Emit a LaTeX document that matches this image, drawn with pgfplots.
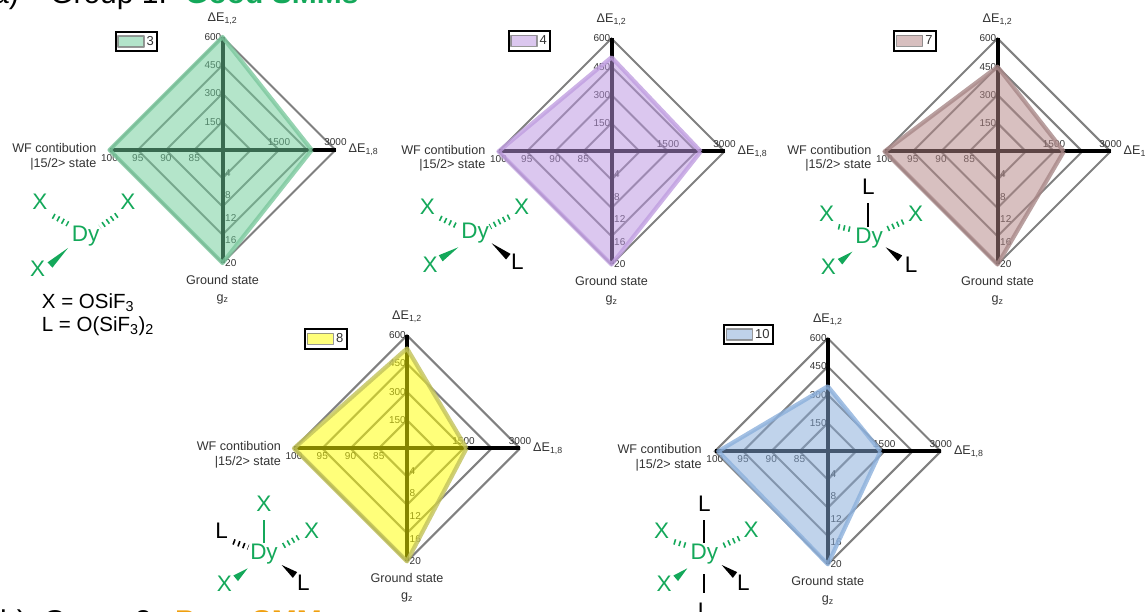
\documentclass[border=0pt]{standalone}
\usepackage{pgfplots}
\usepackage{pgfplotstable}
\pgfplotsset{compat=1.18}
\usepackage{fontspec}
\setmainfont{Liberation Sans}
\usetikzlibrary{calc}

\definecolor{chem}{HTML}{14A85A}
\definecolor{poor}{HTML}{F0A010}
\definecolor{txt}{HTML}{333333}
\definecolor{ring}{HTML}{808080}
\definecolor{fThree}{HTML}{6FCD9A}\definecolor{lThree}{HTML}{7CC89E}
\definecolor{fFour}{HTML}{BA94E0}\definecolor{lFour}{HTML}{C09FE0}
\definecolor{fSeven}{HTML}{B48686}\definecolor{lSeven}{HTML}{A88888}
\definecolor{fEight}{HTML}{FFFF00}\definecolor{lEight}{HTML}{C2C25A}
\definecolor{fTen}{HTML}{86AAD8}\definecolor{lTen}{HTML}{8CB0DC}

% one row per spoke: direction, range of that spoke, value
\pgfplotstableread{
dx dy lo hi val
1 0 0 3000 2370
0 -1 0 20 20
-1 0 80 100 100
0 1 0 600 600
1 0 0 3000 2370
}\tblThree
\pgfplotstableread{
dx dy lo hi val
1 0 0 3000 2370
0 -1 0 20 20
-1 0 80 100 100
0 1 0 600 500
1 0 0 3000 2370
}\tblFour
\pgfplotstableread{
dx dy lo hi val
1 0 0 3000 1760
0 -1 0 20 20
-1 0 80 100 100
0 1 0 600 450
1 0 0 3000 1760
}\tblSeven
\pgfplotstableread{
dx dy lo hi val
1 0 0 3000 1580
0 -1 0 20 20
-1 0 80 100 100
0 1 0 600 530
1 0 0 3000 1580
}\tblEight
\pgfplotstableread{
dx dy lo hi val
1 0 0 3000 1400
0 -1 0 20 20
-1 0 80 100 99.4
0 1 0 600 345
1 0 0 3000 1400
}\tblTen

\newcommand{\fs}[1]{\fontsize{#1}{#1}\selectfont}
\tikzset{
  tick lab/.style={font=\fs{10},text=txt,inner sep=0pt},
  cat lab/.style={font=\fs{12.6},text=txt,inner sep=0pt},
  atom/.style={font=\fs{22.5},inner sep=0pt},
}

% args: cx, cy, table, fill, line, legend x, legend y, legend label
\newcommand{\radar}[8]{%
  \colorlet{serfill}{#4}\colorlet{serline}{#5}%
  \begin{axis}[
    at={(#1pt,-#2pt)},anchor=center,
    scale only axis,width=226pt,height=226pt,
    xmin=-1,xmax=1,ymin=-1,ymax=1,
    axis lines=none,clip=false,
    legend style={at={(axis description cs:#6,#7)},anchor=center,
      draw=black,line width=2pt,inner xsep=1.5pt,inner ysep=2.5pt,
      font=\fs{13},text=txt,fill=white},
    legend image code/.code={
      \draw[line width=1.5pt,draw=ring,fill=serfill,fill opacity=.52]
        (0pt,-5.5pt) rectangle (26pt,5.5pt);},
  ]
  \addplot[forget plot,ring,line width=2.1pt] coordinates {(.25,0)(0,-.25)(-.25,0)(0,.25)(.25,0)};
  \addplot[forget plot,ring,line width=2.1pt] coordinates {(.5,0)(0,-.5)(-.5,0)(0,.5)(.5,0)};
  \addplot[forget plot,ring,line width=2.1pt] coordinates {(.75,0)(0,-.75)(-.75,0)(0,.75)(.75,0)};
  \addplot[forget plot,ring,line width=2.1pt] coordinates {(1,0)(0,-1)(-1,0)(0,1)(1,0)};
  \addplot[forget plot,black,line width=4pt] coordinates {(-1,0)(1,0)};
  \addplot[forget plot,black,line width=4pt] coordinates {(0,-1)(0,1)};
  \node[tick lab,anchor=east,xshift=-1pt] at (axis cs:0,1) {600};
  \node[tick lab,anchor=east,xshift=-1pt] at (axis cs:0,.75) {450};
  \node[tick lab,anchor=east,xshift=-1pt] at (axis cs:0,.5) {300};
  \node[tick lab,anchor=east,xshift=-1pt] at (axis cs:0,.25) {150};
  \node[tick lab,yshift=7.5pt] at (axis cs:.5,0) {1500};
  \node[tick lab,yshift=7.5pt] at (axis cs:1,0) {3000};
  \node[tick lab,yshift=-8pt] at (axis cs:-1,0) {100};
  \node[tick lab,yshift=-8pt] at (axis cs:-.75,0) {95};
  \node[tick lab,yshift=-8pt] at (axis cs:-.5,0) {90};
  \node[tick lab,yshift=-8pt] at (axis cs:-.25,0) {85};
  \node[tick lab,anchor=west,xshift=2.5pt] at (axis cs:0,-.2) {4};
  \node[tick lab,anchor=west,xshift=2.5pt] at (axis cs:0,-.4) {8};
  \node[tick lab,anchor=west,xshift=2.5pt] at (axis cs:0,-.6) {12};
  \node[tick lab,anchor=west,xshift=2.5pt] at (axis cs:0,-.8) {16};
  \node[tick lab,anchor=west,xshift=2.5pt] at (axis cs:0,-1) {20};
  \addplot[draw=serline,fill=serfill,line width=4.2pt,line join=round,
    fill opacity=.52,draw opacity=.8]
    table[x expr=\thisrow{dx}*(\thisrow{val}-\thisrow{lo})/(\thisrow{hi}-\thisrow{lo}),
          y expr=\thisrow{dy}*(\thisrow{val}-\thisrow{lo})/(\thisrow{hi}-\thisrow{lo})] {#3};
  \addlegendentry{#8}
  \node[cat lab,yshift=18.5pt] at (axis cs:0,1) {ΔE\textsubscript{1,2}};
  \node[cat lab,anchor=west,xshift=13pt] at (axis cs:1,0) {ΔE\textsubscript{1,8}};
  \node[cat lab,anchor=east,xshift=-13pt,yshift=2pt] at (axis cs:-1,0) {WF contibution};
  \node[cat lab,anchor=east,xshift=-13pt,yshift=-14pt] at (axis cs:-1,0) {|15/2> state};
  \node[cat lab,yshift=-16.5pt] at (axis cs:0,-1) {Ground state};
  \node[cat lab,yshift=-36pt] at (axis cs:0,-1) {g\textsubscript{z}};
  \end{axis}}

% hashed and wedged bonds
\newcommand{\hashb}[5]{\draw[#5,line width=5.5pt,dash pattern=on 1.6pt off 3.6pt] (#1,#2) -- (#3,#4);}
\newcommand{\wedgeb}[5]{\fill[#5] (#1,#2) -- ($(#3,#4)!3.6pt!90:(#1,#2)$) -- ($(#3,#4)!3.6pt!-90:(#1,#2)$) -- cycle;}

\begin{document}
\begin{tikzpicture}[x=1pt,y=-1pt]
\path[use as bounding box] (0,0) rectangle (1145,612);
\clip (0,0) rectangle (1145,612);

\node[font=\fs{30},anchor=base west,inner sep=0pt] at (-8,3.5) {a)};
\node[font=\fs{30},anchor=base west,inner sep=0pt] at (50,3.5) {Group 1:};
\node[font=\fs{30}\bfseries,text=chem,anchor=base west,inner sep=0pt] at (185,3.5) {Good SMMs};
\node[font=\fs{30},anchor=base west,inner sep=0pt] at (0,631.5) {b)};
\node[font=\fs{30},anchor=base west,inner sep=0pt] at (43,631.5) {Group 2:};
\node[font=\fs{30}\bfseries,text=poor,anchor=base west,inner sep=0pt] at (175,631.5) {Poor SMMs};

\radar{222.5}{150}{\tblThree}{fThree}{lThree}{.119}{.98}{3}
\radar{611.5}{151.5}{\tblFour}{fFour}{lFour}{.137}{.989}{4}
\radar{997.5}{151.5}{\tblSeven}{fSeven}{lSeven}{.136}{.989}{7}
\radar{407}{448.3}{\tblEight}{fEight}{lEight}{.142}{.984}{8}
\radar{827.8}{451.3}{\tblTen}{fTen}{lTen}{.15}{1.017}{10}

% ligand sketches
\node[atom,text=chem] at (40,202) {X};
\node[atom,text=chem] at (128,202) {X};
\node[atom,text=chem] at (85.7,236) {Dy};
\node[atom,text=chem] at (37.7,269) {X};
\hashb{53}{216}{68}{224}{chem}
\hashb{117}{215}{100}{227}{chem}
\wedgeb{68}{248}{50}{265}{chem}
\node[font=\fs{20.5},anchor=base west,inner sep=0pt] at (41.7,308) {X = OSiF\textsubscript{3}};
\node[font=\fs{20.5},anchor=base west,inner sep=0pt] at (41.7,331.7) {L = O(SiF\textsubscript{3})\textsubscript{2}};

\node[atom,text=chem] at (427.3,206.7) {X};
\node[atom,text=chem] at (521.7,207) {X};
\node[atom,text=chem] at (475,233) {Dy};
\node[atom,text=chem] at (430,265) {X};
\node[atom] at (517.3,261.7) {L};
\hashb{440}{218}{458.3}{226.7}{chem}
\hashb{509.3}{216.7}{490}{226.7}{chem}
\wedgeb{458.3}{247.3}{440.7}{258.3}{chem}
\wedgeb{491.7}{243.3}{508.3}{256.7}{black}

\node[atom] at (868.3,186.7) {L};
\draw[black,line width=2pt] (868.3,203.3) -- (868.3,226.7);
\node[atom,text=chem] at (826.7,214) {X};
\node[atom,text=chem] at (915.7,213.3) {X};
\node[atom,text=chem] at (869,237.7) {Dy};
\node[atom,text=chem] at (828.3,266.7) {X};
\node[atom] at (911,265) {L};
\hashb{838.3}{226.7}{853.3}{230}{chem}
\hashb{903.3}{221.7}{885}{230}{chem}
\wedgeb{852.3}{251.7}{840}{261.7}{chem}
\wedgeb{885.7}{247.3}{900}{258.3}{black}

\node[atom,text=chem] at (264,503.3) {X};
\draw[chem,line width=2pt] (264,520) -- (264,543.3);
\node[atom] at (221.7,531) {L};
\node[atom,text=chem] at (311.7,530.7) {X};
\node[atom,text=chem] at (264,554.3) {Dy};
\node[atom,text=chem] at (224.3,583.3) {X};
\node[atom] at (303.3,582.7) {L};
\hashb{233.3}{541.7}{248.3}{547.3}{black}
\hashb{298.3}{537.3}{281.7}{546.7}{chem}
\wedgeb{247.7}{568.3}{235.7}{578.3}{chem}
\wedgeb{281.7}{565}{295}{575}{black}

\node[atom] at (704.3,503.3) {L};
\draw[black,line width=2pt] (704.3,520) -- (704.3,543.3);
\node[atom,text=chem] at (661.7,530.7) {X};
\node[atom,text=chem] at (751,530) {X};
\node[atom,text=chem] at (704.3,554.3) {Dy};
\node[atom,text=chem] at (664,583.3) {X};
\node[atom] at (743.3,582.7) {L};
\hashb{674}{541.7}{688.3}{546}{chem}
\hashb{739.3}{538.3}{720.7}{546.7}{chem}
\wedgeb{687.3}{568.3}{675.7}{578.3}{chem}
\wedgeb{721.7}{565}{735}{575}{black}
\draw[black,line width=2pt] (704.3,574.3) -- (704.3,593.3);
\node[atom] at (704,611) {L};
\end{tikzpicture}
\end{document}
